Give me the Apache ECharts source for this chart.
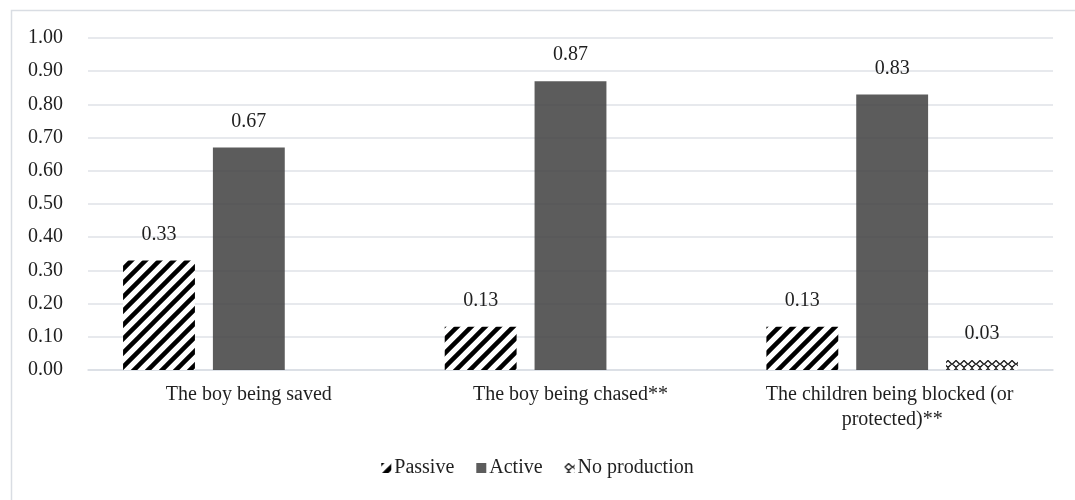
<!DOCTYPE html>
<html>
<head>
<meta charset="utf-8">
<script src="https://cdn.jsdelivr.net/npm/echarts@6/dist/echarts.min.js"></script>
<style>
  html, body { margin: 0; padding: 0; background: #fff; }
  #chart { width: 1075px; height: 500px; }
</style>
</head>
<body>
<div id="chart"></div>
<script>
// Proportion of each response type per picture item
const categories = ['The boy being saved', 'The boy being chased**', 'The children being blocked (or protected)**'];
const passive = [0.33, 0.13, 0.13];
const active = [0.67, 0.87, 0.83];
const noProduction = [null, null, 0.03];
const yTicks = { min: 0, max: 1, interval: 0.1 };

const FONT = '"Liberation Serif", "Times New Roman", serif';
const TEXT = '#1f1f1f';
const SIZE = 20;

// Diagonal black stripes on white
function stripeTile() {
  const n = 14;
  const c = document.createElement('canvas');
  c.width = n; c.height = n;
  const g = c.getContext('2d');
  g.fillStyle = '#fff';
  g.fillRect(0, 0, n, n);
  g.strokeStyle = '#000';
  g.lineWidth = 4.5;
  g.beginPath();
  g.moveTo(-2, n + 2); g.lineTo(n + 2, -2);
  g.moveTo(-2, 2); g.lineTo(2, -2);
  g.moveTo(n - 2, n + 2); g.lineTo(n + 2, n - 2);
  g.stroke();
  return c;
}

// Small chain of diamonds
function diamondTile() {
  const n = 8;
  const c = document.createElement('canvas');
  c.width = n; c.height = n;
  const g = c.getContext('2d');
  g.fillStyle = '#fff';
  g.fillRect(0, 0, n, n);
  g.strokeStyle = '#1a1a1a';
  g.lineWidth = 1.3;
  g.beginPath();
  g.moveTo(4, 0.5); g.lineTo(7.5, 4); g.lineTo(4, 7.5); g.lineTo(0.5, 4); g.closePath();
  g.stroke();
  return c;
}

const stripes = { image: stripeTile(), repeat: 'repeat' };
const diamonds = { image: diamondTile(), repeat: 'repeat' };

const labelStyle = {
  show: true,
  position: 'top',
  distance: 16,
  fontFamily: FONT,
  fontSize: SIZE,
  color: TEXT,
  formatter: p => p.value == null ? '' : Number(p.value).toFixed(2)
};

const chart = echarts.init(document.getElementById('chart'), null, { renderer: 'canvas' });
chart.setOption({
  animation: false,
  backgroundColor: '#fff',
  graphic: [{
    type: 'rect',
    left: 9, top: 8,
    shape: { width: 1100, height: 520 },
    style: { fill: 'none', stroke: '#d9dde3', lineWidth: 1.5 },
    silent: true, z: -1
  }],
  grid: { left: 88, right: 22, top: 38, bottom: 130, containLabel: false },
  legend: {
    data: ['Passive', 'Active', 'No production'],
    left: 'center',
    top: 453,
    itemWidth: 10,
    itemHeight: 10,
    itemGap: 22,
    icon: 'rect',
    textStyle: { fontFamily: FONT, fontSize: SIZE, color: TEXT, padding: [0, 0, 0, -2] }
  },
  xAxis: {
    type: 'category',
    data: categories,
    axisTick: { show: false },
    axisLine: { lineStyle: { color: '#d9dde3', width: 1.5 } },
    axisLabel: {
      fontFamily: FONT, fontSize: SIZE, color: TEXT,
      margin: 12, width: 275, overflow: 'break', lineHeight: 25, interval: 0
    }
  },
  yAxis: {
    type: 'value',
    min: yTicks.min, max: yTicks.max, interval: yTicks.interval,
    axisLine: { show: false },
    axisTick: { show: false },
    splitLine: { lineStyle: { color: '#dfe2e7', width: 1.5 } },
    axisLabel: {
      fontFamily: FONT, fontSize: SIZE, color: TEXT, margin: 25,
      formatter: v => v.toFixed(2)
    }
  },
  series: [
    {
      name: 'Passive', type: 'bar', data: passive,
      barGap: '25%', barCategoryGap: '21.8%',
      itemStyle: { color: stripes },
      label: labelStyle
    },
    {
      name: 'Active', type: 'bar', data: active,
      itemStyle: { color: 'rgba(64,64,64,0.85)' },
      label: labelStyle
    },
    {
      name: 'No production', type: 'bar', data: noProduction,
      itemStyle: { color: diamonds },
      label: labelStyle
    }
  ]
});
</script>
</body>
</html>
